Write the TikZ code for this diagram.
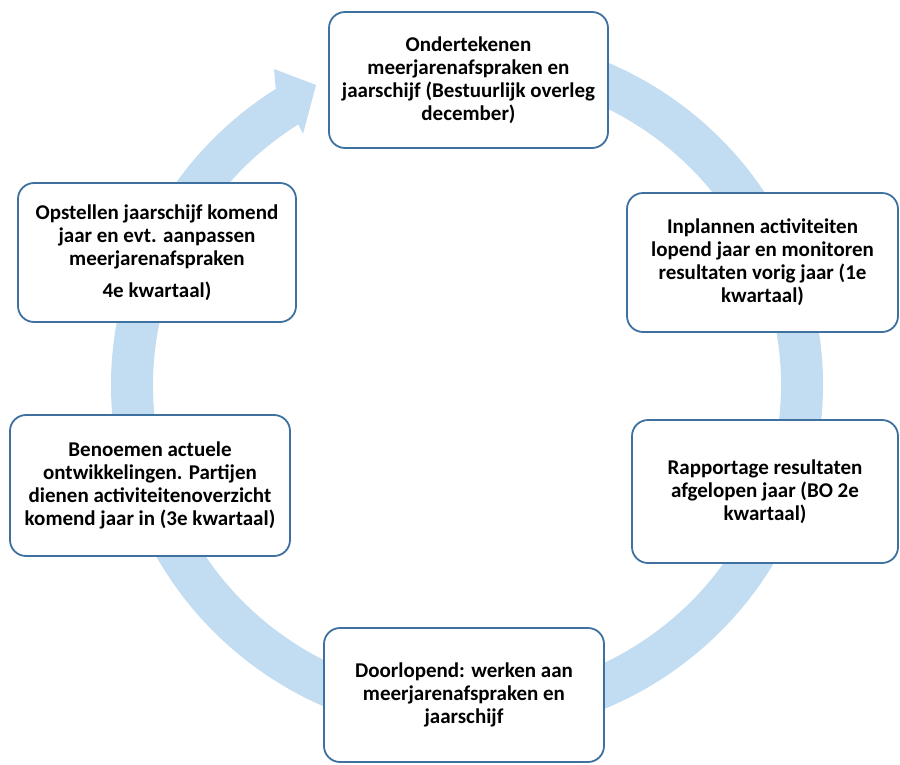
\documentclass[tikz,border=0pt]{standalone}
\usepackage{fontspec}
\setmainfont{Carlito}
\usetikzlibrary{calc}
\definecolor{bandblue}{RGB}{194,220,242}
\definecolor{boxline}{RGB}{62,112,160}
\begin{document}
\begin{tikzpicture}[x=1pt,y=-1pt,
  stagebox/.style={draw=boxline, line width=1.8pt, fill=white, rounded corners=16pt,
    rectangle, inner sep=0pt, align=center,
    font=\fontsize{21}{23}\selectfont\bfseries},
  band/.style={fill=bandblue}]
\useasboundingbox (0,0) rectangle (900,764);
% circular band with arrowhead
\coordinate (c) at (467,385);
\fill[band] ($(c)+(-90:356 and 351)$)
  arc[start angle=-90, end angle=237.5, x radius=356, y radius=351]
  -- (274,69) -- (316,85) -- (303,134)
  -- ($(c)+(237.5:314 and 309)$)
  arc[start angle=237.5, end angle=-90, x radius=314, y radius=309]
  -- cycle;
% boxes
\node[stagebox, minimum width=279pt, minimum height=136pt] (n1) at (468.5,80)
  {Ondertekenen\\ meerjarenafspraken en\\ jaarschijf (Bestuurlijk overleg\\ december)};
\node[stagebox, minimum width=271pt, minimum height=139pt] (n2) at (762.5,262.5)
  {Inplannen activiteiten\\ lopend jaar en monitoren\\ resultaten vorig jaar (1e\\ kwartaal)};
\node[stagebox, minimum width=266pt, minimum height=143pt] (n3) at (765,491.5)
  {Rapportage resultaten\\ afgelopen jaar (BO 2e\\ kwartaal)};
\node[stagebox, minimum width=280pt, minimum height=134pt] (n4) at (464,695)
  {Doorlopend: werken aan\\ meerjarenafspraken en\\ jaarschijf};
\node[stagebox, minimum width=280pt, minimum height=141pt] (n5) at (150,485.5)
  {Benoemen actuele\\ ontwikkelingen. Partijen\\ dienen activiteitenoverzicht\\ komend jaar in (3e kwartaal)};
\node[stagebox, minimum width=278pt, minimum height=139pt] (n6) at (157,252.5)
  {Opstellen jaarschijf komend\\ jaar en evt. aanpassen\\ meerjarenafspraken\\[9pt] 4e kwartaal)};
\end{tikzpicture}
\end{document}
